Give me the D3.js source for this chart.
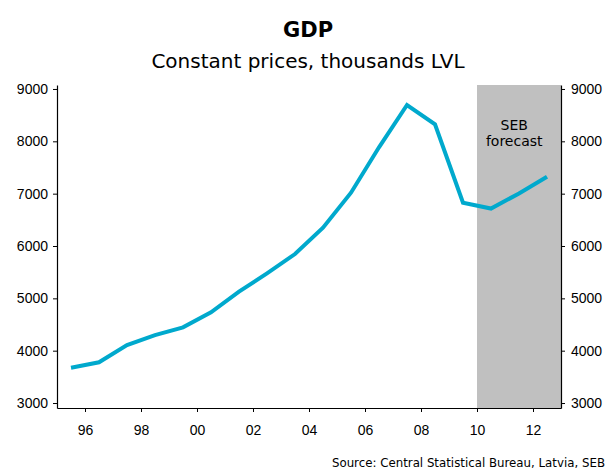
<!DOCTYPE html>
<html>
<head>
<meta charset="utf-8">
<script src="https://cdn.jsdelivr.net/npm/d3@7"></script>
<style>
  body { margin: 0; background: #fff; }
  svg { display: block; font-family: "DejaVu Sans", sans-serif; }
  .axis path, .axis line { stroke: #000; }
  .axis text { font-size: 14px; fill: #000; }
</style>
</head>
<body>
<svg id="chart" width="609" height="473"></svg>
<script>
// GDP, constant prices, thousands LVL (annual, plotted mid-year)
const years = [1995, 1996, 1997, 1998, 1999, 2000, 2001, 2002, 2003, 2004,
  2005, 2006, 2007, 2008, 2009, 2010, 2011, 2012];
const gdp = [3674, 3778, 4108, 4299, 4446, 4733, 5127, 5478, 5846, 6349,
  7018, 7886, 8694, 8325, 6827, 6715, 7005, 7324];
const xTicks = [1996, 1998, 2000, 2002, 2004, 2006, 2008, 2010, 2012];
const yTicks = [3000, 4000, 5000, 6000, 7000, 8000, 9000];
const forecastFrom = 2010;
const forecastTo = 2013;

const svg = d3.select('#chart');
const margin = { left: 57, right: 48, top: 85, bottom: 65 };
const width = 609;
const height = 473;

const x = d3.scaleLinear().domain([1995, 2013]).range([margin.left, width - margin.right]);
const y = d3.scaleLinear().domain([2905, 9076]).range([height - margin.bottom, margin.top]);

// forecast shading
svg.append('rect')
  .attr('x', x(forecastFrom))
  .attr('y', margin.top)
  .attr('width', x(forecastTo) - x(forecastFrom))
  .attr('height', y.range()[0] - margin.top)
  .attr('fill', '#c0c0c0');

svg.append('text')
  .attr('text-anchor', 'middle')
  .attr('font-size', 14)
  .attr('y', 130)
  .selectAll('tspan')
  .data(['SEB', 'forecast'])
  .join('tspan')
  .attr('x', x(2011.33))
  .attr('dy', (d, i) => (i ? 16 : 0))
  .text((d) => d);

// axes
svg.append('g')
  .attr('class', 'axis')
  .attr('transform', `translate(${margin.left},0)`)
  .call(d3.axisLeft(y).tickValues(yTicks).tickSize(4).tickPadding(5).tickSizeOuter(0).tickFormat(d3.format('d')));

svg.append('g')
  .attr('class', 'axis')
  .attr('transform', `translate(${width - margin.right},0)`)
  .call(d3.axisRight(y).tickValues(yTicks).tickSize(4).tickPadding(6).tickSizeOuter(0).tickFormat(d3.format('d')));

svg.append('g')
  .attr('class', 'axis')
  .attr('transform', `translate(0,${height - margin.bottom})`)
  .call(d3.axisBottom(x).tickValues(xTicks).tickSize(4).tickPadding(13).tickSizeOuter(0)
    .tickFormat((d) => String(d).slice(2)));

svg.selectAll('.axis .domain').attr('stroke-width', 1.2);

// line
const line = d3.line()
  .x((d, i) => x(years[i] + 0.5))
  .y((d) => y(d));

svg.append('path')
  .datum(gdp)
  .attr('fill', 'none')
  .attr('stroke', '#00a9cd')
  .attr('stroke-width', 4)
  .attr('stroke-linejoin', 'miter')
  .attr('d', line);

// titles
svg.append('text')
  .attr('x', 308).attr('y', 37)
  .attr('text-anchor', 'middle')
  .attr('font-size', 21)
  .attr('font-weight', 'bold')
  .text('GDP');

svg.append('text')
  .attr('x', 308).attr('y', 68)
  .attr('text-anchor', 'middle')
  .attr('font-size', 20)
  .text('Constant prices, thousands LVL');

svg.append('text')
  .attr('x', 605).attr('y', 467)
  .attr('text-anchor', 'end')
  .attr('font-size', 11.8)
  .text('Source: Central Statistical Bureau, Latvia, SEB');
</script>
</body>
</html>
